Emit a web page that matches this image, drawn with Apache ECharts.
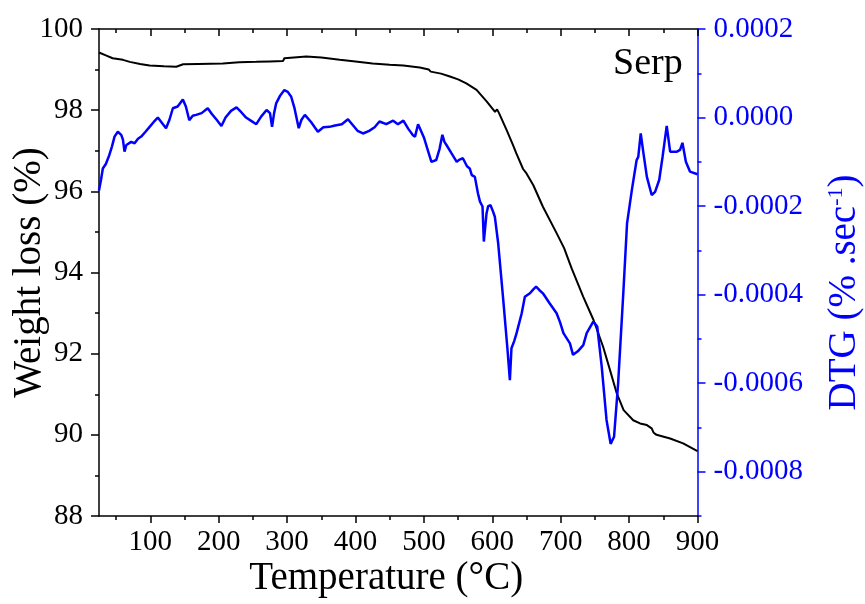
<!DOCTYPE html>
<html>
<head>
<meta charset="utf-8">
<script src="https://cdn.jsdelivr.net/npm/echarts@6/dist/echarts.min.js"></script>
<style>html,body{margin:0;padding:0;background:#fff}#c{width:865px;height:604px}</style>
</head>
<body>
<div id="c"></div>
<script>
// ---- data ----
const tgaTemp = [25,35,45,60,70,85,99,120,138,148,170,206,230,255,275,294,296,310,328,350,377,400,425,450,470,494,507,510,525,538,550,562,577,592,604,607,610,621,630,635,645,650,660,674,694,705,716,733,748,762,772,782,792,806,816,826,833,836,840,860,879,900];
const tgaWeight = [99.42,99.35,99.28,99.24,99.19,99.14,99.10,99.08,99.07,99.13,99.14,99.15,99.18,99.19,99.20,99.21,99.28,99.30,99.32,99.30,99.24,99.20,99.15,99.12,99.10,99.05,99.00,98.95,98.90,98.83,98.76,98.66,98.50,98.21,97.96,98.02,97.92,97.51,97.15,96.94,96.55,96.44,96.15,95.62,94.97,94.60,94.10,93.40,92.83,92.17,91.60,91.02,90.61,90.36,90.28,90.24,90.16,90.05,90.00,89.91,89.79,89.60];

const dtgTemp = [25,28,30.6,35,40,44,47.7,52.5,57.5,60,62.3,65,67,72,77,82,86.7,93,99,105,111,116,123,128,133,140,147.6,152,157,162,167,175,184,190,197,204,210,218,226,233,240,248,255,262,270,275,278,281,284,290,296,301,306,311,317,321,326,335,345,353,362,370,380,389,395,403,411,420,428,435,445,455,462,470,477,484,487,491.5,500,505,511,518,523,527,530,533,540,548,552,557,563,567,570,574.5,579,582,585.7,587.6,591.6,594,597.4,601,603.7,608.6,616,622,625.7,628,632,635.5,643,647.6,655,660,664,669,674,684,694,699,704,713.5,718,725,733,738,747.6,753.4,760,767,773,778,784,791.5,797,804,811,813.4,817,821,826,833,838,844,849,855,860,870,874.5,878,883,889,900];
const dtgValue = [-0.000165,-0.000140,-0.000115,-0.000105,-0.000085,-0.000065,-0.000043,-0.000032,-0.000039,-0.000050,-0.000077,-0.000062,-0.000058,-0.000055,-0.000058,-0.000048,-0.000043,-0.000032,-0.000021,-0.000010,0.000000,-0.000010,-0.000024,-0.000005,0.000021,0.000025,0.000041,0.000025,-0.000006,0.000004,0.000006,0.000010,0.000021,0.000008,-0.000005,-0.000019,0.000000,0.000015,0.000023,0.000012,0.000000,-0.000008,-0.000015,0.000002,0.000017,0.000010,-0.000021,0.000010,0.000032,0.000050,0.000062,0.000058,0.000047,0.000020,-0.000024,-0.000005,0.000006,-0.000010,-0.000032,-0.000022,-0.000021,-0.000018,-0.000015,-0.000004,-0.000015,-0.000030,-0.000036,-0.000030,-0.000022,-0.000009,-0.000015,-0.000007,-0.000015,-0.000007,-0.000025,-0.000040,-0.000043,-0.000015,-0.000045,-0.000070,-0.000100,-0.000096,-0.000070,-0.000039,-0.000055,-0.000062,-0.000080,-0.000100,-0.000095,-0.000092,-0.000110,-0.000115,-0.000130,-0.000134,-0.000171,-0.000190,-0.000201,-0.000280,-0.000216,-0.000200,-0.000198,-0.000212,-0.000224,-0.000284,-0.000412,-0.000520,-0.000593,-0.000521,-0.000505,-0.000487,-0.000442,-0.000405,-0.000397,-0.000388,-0.000382,-0.000390,-0.000397,-0.000420,-0.000442,-0.000462,-0.000487,-0.000510,-0.000536,-0.000528,-0.000514,-0.000487,-0.000461,-0.000472,-0.000563,-0.000683,-0.000737,-0.000721,-0.000600,-0.000397,-0.000239,-0.000164,-0.000096,-0.000089,-0.000036,-0.000081,-0.000134,-0.000175,-0.000168,-0.000141,-0.000088,-0.000019,-0.000077,-0.000077,-0.000073,-0.000057,-0.000100,-0.000122,-0.000128];

// ---- tick values ----
const tempMajor = [100,200,300,400,500,600,700,800,900];
const tempMinor = [50,150,250,350,450,550,650,750,850];
const dtgMajor = [-0.0008,-0.0006,-0.0004,-0.0002,0,0.0002];
const dtgMinor = [-0.0009,-0.0007,-0.0005,-0.0003,-0.0001,0.0001];

const FONT = 'Liberation Serif';
const BLUE = '#0000ff';

const tgaData = tgaTemp.map((t, i) => [t, tgaWeight[i]]);
const dtgData = dtgTemp.map((t, i) => [t, dtgValue[i]]);

const chart = echarts.init(document.getElementById('c'), null, {renderer: 'canvas'});

function xAx(opts) {
  return Object.assign({
    type: 'value', min: 25, max: 900,
    splitLine: {show: false},
    axisLine: {show: false, onZero: false},
    axisLabel: {show: false},
    axisTick: {show: false}
  }, opts);
}
function yRight(opts) {
  return Object.assign({
    type: 'value', position: 'right', min: -0.0009, max: 0.0002,
    splitLine: {show: false},
    axisLine: {show: false, onZero: false},
    axisLabel: {show: false},
    axisTick: {show: false}
  }, opts);
}

chart.setOption({
  animation: false,
  backgroundColor: '#ffffff',
  grid: {left: 99, right: 167.5, top: 29, bottom: 88, containLabel: false, outerBoundsMode: 'none'},
  xAxis: [
    xAx({
      position: 'bottom',
      name: 'Temperature (°C)', nameLocation: 'middle', nameGap: 43, nameMoveOverlap: false,
      nameTextStyle: {fontFamily: FONT, fontSize: 39, color: '#000', padding: [0, 24, 0, 0]},
      axisLine: {show: true, onZero: false, lineStyle: {color: '#000', width: 1.5}},
      axisTick: {show: true, inside: false, length: 7, customValues: tempMajor, lineStyle: {color: '#000', width: 1.5}},
      axisLabel: {show: true, customValues: tempMajor, margin: 12, fontFamily: FONT, fontSize: 29, color: '#000'}
    }),
    xAx({
      position: 'bottom',
      axisTick: {show: true, inside: false, length: 4, customValues: tempMinor, lineStyle: {color: '#000', width: 1.5}}
    }),
    xAx({
      position: 'top',
      axisLine: {show: true, onZero: false, lineStyle: {color: '#000', width: 1.5}},
      axisTick: {show: true, inside: true, length: 7, customValues: tempMajor, lineStyle: {color: '#000', width: 1.5}}
    }),
    xAx({
      position: 'top',
      axisTick: {show: true, inside: true, length: 4, customValues: tempMinor, lineStyle: {color: '#000', width: 1.5}}
    })
  ],
  yAxis: [
    {
      type: 'value', position: 'left', min: 88, max: 100, interval: 2,
      name: 'Weight loss (%)', nameLocation: 'middle', nameRotate: 90, nameGap: 50, nameMoveOverlap: false,
      nameTextStyle: {fontFamily: FONT, fontSize: 39, color: '#000'},
      splitLine: {show: false},
      axisLine: {show: true, onZero: false, lineStyle: {color: '#000', width: 1.5}},
      axisTick: {show: true, inside: false, length: 8, lineStyle: {color: '#000', width: 1.5}},
      minorTick: {show: true, splitNumber: 2, length: 4, lineStyle: {color: '#000', width: 1.5}},
      axisLabel: {margin: 16, fontFamily: FONT, fontSize: 29, color: '#000'}
    },
    yRight({
      name: 'DTG (% .sec{sup|-1})', nameLocation: 'middle', nameRotate: 90, nameGap: 128, nameMoveOverlap: false,
      nameTextStyle: {
        fontFamily: FONT, fontSize: 39, color: BLUE, padding: [0, 40, 0, 0],
        rich: {sup: {fontFamily: FONT, fontSize: 22, color: BLUE, verticalAlign: 'top', lineHeight: 39}}
      },
      axisLine: {show: true, onZero: false, lineStyle: {color: BLUE, width: 1.5}},
      axisTick: {show: true, inside: false, length: 8, customValues: dtgMajor, lineStyle: {color: BLUE, width: 1.5}},
      axisLabel: {
        show: true, customValues: dtgMajor, margin: 16, fontFamily: FONT, fontSize: 29, color: BLUE,
        formatter: v => (Math.abs(v) < 1e-12 ? 0 : v).toFixed(4)
      }
    }),
    yRight({
      axisTick: {show: true, inside: false, length: 4, customValues: dtgMinor, lineStyle: {color: BLUE, width: 1.5}}
    })
  ],
  graphic: [{
    type: 'text', x: 613, y: 64,
    style: {text: 'Serp', font: '38px "Liberation Serif"', fill: '#000', textAlign: 'left', textVerticalAlign: 'middle'}
  }],
  series: [
    {
      name: 'Weight', type: 'line', xAxisIndex: 0, yAxisIndex: 0, data: tgaData,
      showSymbol: false, smooth: false, lineStyle: {color: '#000', width: 2}, itemStyle: {color: '#000'}
    },
    {
      name: 'DTG', type: 'line', xAxisIndex: 0, yAxisIndex: 1, data: dtgData,
      showSymbol: false, smooth: false, lineStyle: {color: BLUE, width: 2.5}, itemStyle: {color: BLUE}
    }
  ]
});
</script>
</body>
</html>
